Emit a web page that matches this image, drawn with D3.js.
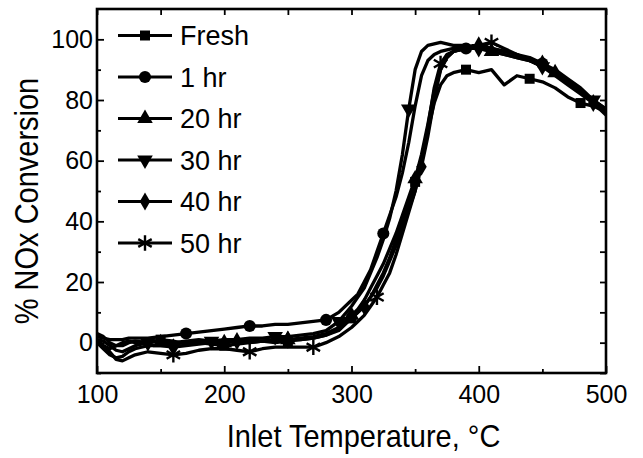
<!DOCTYPE html>
<html><head><meta charset="utf-8">
<script src="https://cdn.jsdelivr.net/npm/d3@7"></script>
<style>
html,body{margin:0;padding:0;background:#fff;}
svg{display:block;}
text{font-family:"Liberation Sans",Arial,sans-serif;fill:#000;}
</style></head>
<body>
<svg id="chart" width="643" height="458"></svg>
<script>
// ---- data ----
const temps = [100,105,110,115,120,125,130,140,150,160,170,180,190,200,210,220,230,240,250,260,270,280,290,
  300,305,310,315,320,325,330,335,340,345,350,355,360,365,370,375,380,390,400,410,420,430,440,450,460,470,480,490,500];

const seriesNames = ["Fresh","1 hr","20 hr","30 hr","40 hr","50 hr"];

const fresh = [1,0.5,-1,-2.5,-3,-2,-1,0,1,0.5,-0.5,0,-0.5,-1,-0.5,0,0.5,0,0.5,1,1.5,2.5,4.5,
  8,10,12,15,19,23,28,34,40,46,53,61,70,79,85,88,89,90,89,90,85,88,87,86,84,81,79,78,76];
const hr1 = [2,1.5,1,1,1,1.5,1.5,1.5,2,2.5,3,3.5,4,4.5,5,5.5,5.5,6,6,6.5,7,7.5,10,
  14,16,20,24,30,36,42,48,56,66,78,88,93,95,96,96.5,97,97,97,96,95,94,93,92,90,87,84,80,77];
const hr20 = [0,-1,-2,-1,0,0.5,0,0.5,0,-0.5,0,0.5,0,0,0.5,1,0.5,1,1,1.5,2,3,5,
  9,11,14,18,22,26,31,36,42,48,54,62,72,83,90,94,96,97,97,96,95,94,93,91,89,86,83,80,77];
const hr30 = [3,2,0,-1,-1,0,0.5,0,0.5,0,0.5,1,0.5,1,1,1.5,1.5,2,2,2.5,3,4,7,
  12,15,18,23,28,34,41,50,62,77,90,96,98,98.5,99,98.5,98,98,97,97,96,95,93,91,89,86,83,80,76];
const hr40 = [0,-2,-4,-5,-4.5,-3,-2,-1,-1,-1.5,-1,-0.5,0,0,0.5,0,0.5,1,1,1,1.5,2.5,4,
  8,10,12,15,18,22,27,32,38,44,50,58,68,80,90,94,96,97,98,97,96,95,94,92,89,86,83,79,75];
const hr50 = [1,-1,-3,-5.5,-6,-5,-4,-3,-3.5,-4,-3.5,-2.5,-2,-2,-2.5,-3,-2,-1.5,-1.5,-1.5,-1.5,0,2,
  5,7,9,12,15,19,23,29,36,43,50,60,71,84,92,95,96,97,98,99,97,95,93,91,88,85,82,79,76];

// indices into temps where each series carries a marker
const freshMarks = [8,13,18,23,33,40,45,49];
const hr1Marks   = [10,15,21,28,40,46];
const hr20Marks  = [8,13,18,23,33,42,47];
const hr30Marks  = [7,12,17,22,32,41,46,50];
const hr40Marks  = [9,14,18,25,34,41,46,50];
const hr50Marks  = [9,15,20,27,37,42];

const xTicks = [100,200,300,400,500];
const xMinor = [150,250,350,450];
const yTicks = [0,20,40,60,80,100];
const yMinor = [-10,10,30,50,70,90];
const xTitle = "Inlet Temperature, \u00B0C";
const yTitle = "% NOx Conversion";

// ---- drawing ----
const svg = d3.select("#chart");
const L = 97, R = 606, T = 9, B = 373;
const x = d3.scaleLinear().domain([100,500]).range([L,R]);
const y = d3.scaleLinear().domain([-10,110]).range([B,T]);

const series = [
  {name:seriesNames[0], vals:fresh, marks:freshMarks, sym:"square"},
  {name:seriesNames[1], vals:hr1,   marks:hr1Marks,   sym:"circle"},
  {name:seriesNames[2], vals:hr20,  marks:hr20Marks,  sym:"triUp"},
  {name:seriesNames[3], vals:hr30,  marks:hr30Marks,  sym:"triDown"},
  {name:seriesNames[4], vals:hr40,  marks:hr40Marks,  sym:"diamond"},
  {name:seriesNames[5], vals:hr50,  marks:hr50Marks,  sym:"asterisk"}
];

function drawSymbol(g, type, cx, cy){
  if(type==="square"){
    g.append("path").attr("d", d3.symbol(d3.symbolSquare, 100)()).attr("transform",`translate(${cx},${cy})`).attr("fill","#000");
  } else if(type==="circle"){
    g.append("path").attr("d", d3.symbol(d3.symbolCircle, 115)()).attr("transform",`translate(${cx},${cy})`).attr("fill","#000");
  } else if(type==="triUp"){
    g.append("path").attr("d", d3.symbol(d3.symbolTriangle, 105)()).attr("transform",`translate(${cx},${cy})`).attr("fill","#000");
  } else if(type==="triDown"){
    g.append("path").attr("d", d3.symbol(d3.symbolTriangle, 105)()).attr("transform",`translate(${cx},${cy}) rotate(180)`).attr("fill","#000");
  } else if(type==="diamond"){
    g.append("path").attr("d", d3.symbol(d3.symbolDiamond, 95)()).attr("transform",`translate(${cx},${cy})`).attr("fill","#000");
  } else if(type==="asterisk"){
    g.append("path").attr("d", d3.symbol(d3.symbolAsterisk, 170)()).attr("transform",`translate(${cx},${cy})`)
      .attr("fill","none").attr("stroke","#000").attr("stroke-width",2.4);
  }
}

// lines
const line = d3.line().x((d,i)=>x(temps[i])).y(d=>y(d));
const plot = svg.append("g");
series.forEach(s=>{
  plot.append("path").datum(s.vals).attr("d", line)
    .attr("fill","none").attr("stroke","#000").attr("stroke-width",3.3)
    .attr("stroke-linejoin","round");
});
series.forEach(s=>{
  const g = plot.append("g");
  s.marks.forEach(i=>drawSymbol(g, s.sym, x(temps[i]), y(s.vals[i])));
});

// axes
function styleAxis(g){
  g.select(".domain").remove();
  g.selectAll(".tick line").attr("stroke","#000").attr("stroke-width",1.8);
  g.selectAll(".tick text").style("font-size","25px").attr("fill","#000");
}
svg.append("g").attr("transform",`translate(0,${B})`)
  .call(d3.axisBottom(x).tickValues(xTicks).tickFormat(d3.format("d")).tickSize(-7).tickPadding(12)).call(styleAxis);
svg.append("g").attr("transform",`translate(0,${B})`)
  .call(d3.axisBottom(x).tickValues(xMinor).tickFormat("").tickSize(-4)).call(styleAxis);
svg.append("g").attr("transform",`translate(0,${T})`)
  .call(d3.axisTop(x).tickValues(xTicks.concat(xMinor)).tickFormat("").tickSize(-6)).call(styleAxis);
svg.append("g").attr("transform",`translate(${L},0)`)
  .call(d3.axisLeft(y).tickValues(yTicks).tickFormat(d3.format("d")).tickSize(-7).tickPadding(4)).call(styleAxis);
svg.append("g").attr("transform",`translate(${L},0)`)
  .call(d3.axisLeft(y).tickValues(yMinor).tickFormat("").tickSize(-4)).call(styleAxis);
svg.append("g").attr("transform",`translate(${R},0)`)
  .call(d3.axisRight(y).tickValues(yTicks.concat(yMinor)).tickFormat("").tickSize(-6)).call(styleAxis);

// frame
svg.append("rect").attr("x",L).attr("y",T).attr("width",R-L).attr("height",B-T)
  .attr("fill","none").attr("stroke","#000").attr("stroke-width",2.6);

// titles
svg.append("text").attr("transform",`translate(${(225+502)/2},447) scale(1,1.1)`)
  .attr("text-anchor","middle").style("font-size","29px").text(xTitle);
svg.append("text").attr("transform",`translate(38,201) rotate(-90) scale(1,1.12)`)
  .attr("text-anchor","middle").style("font-size","29px").text(yTitle);

// legend
const leg = svg.append("g");
series.forEach((s,i)=>{
  const cy = 35.5 + i*41.5;
  leg.append("line").attr("x1",118).attr("x2",172).attr("y1",cy).attr("y2",cy)
    .attr("stroke","#000").attr("stroke-width",3);
  drawSymbol(leg, s.sym, 145, cy);
  leg.append("text").attr("x",180).attr("y",cy).attr("dy","0.36em")
    .style("font-size","27px").text(s.name);
});
</script>
</body></html>
